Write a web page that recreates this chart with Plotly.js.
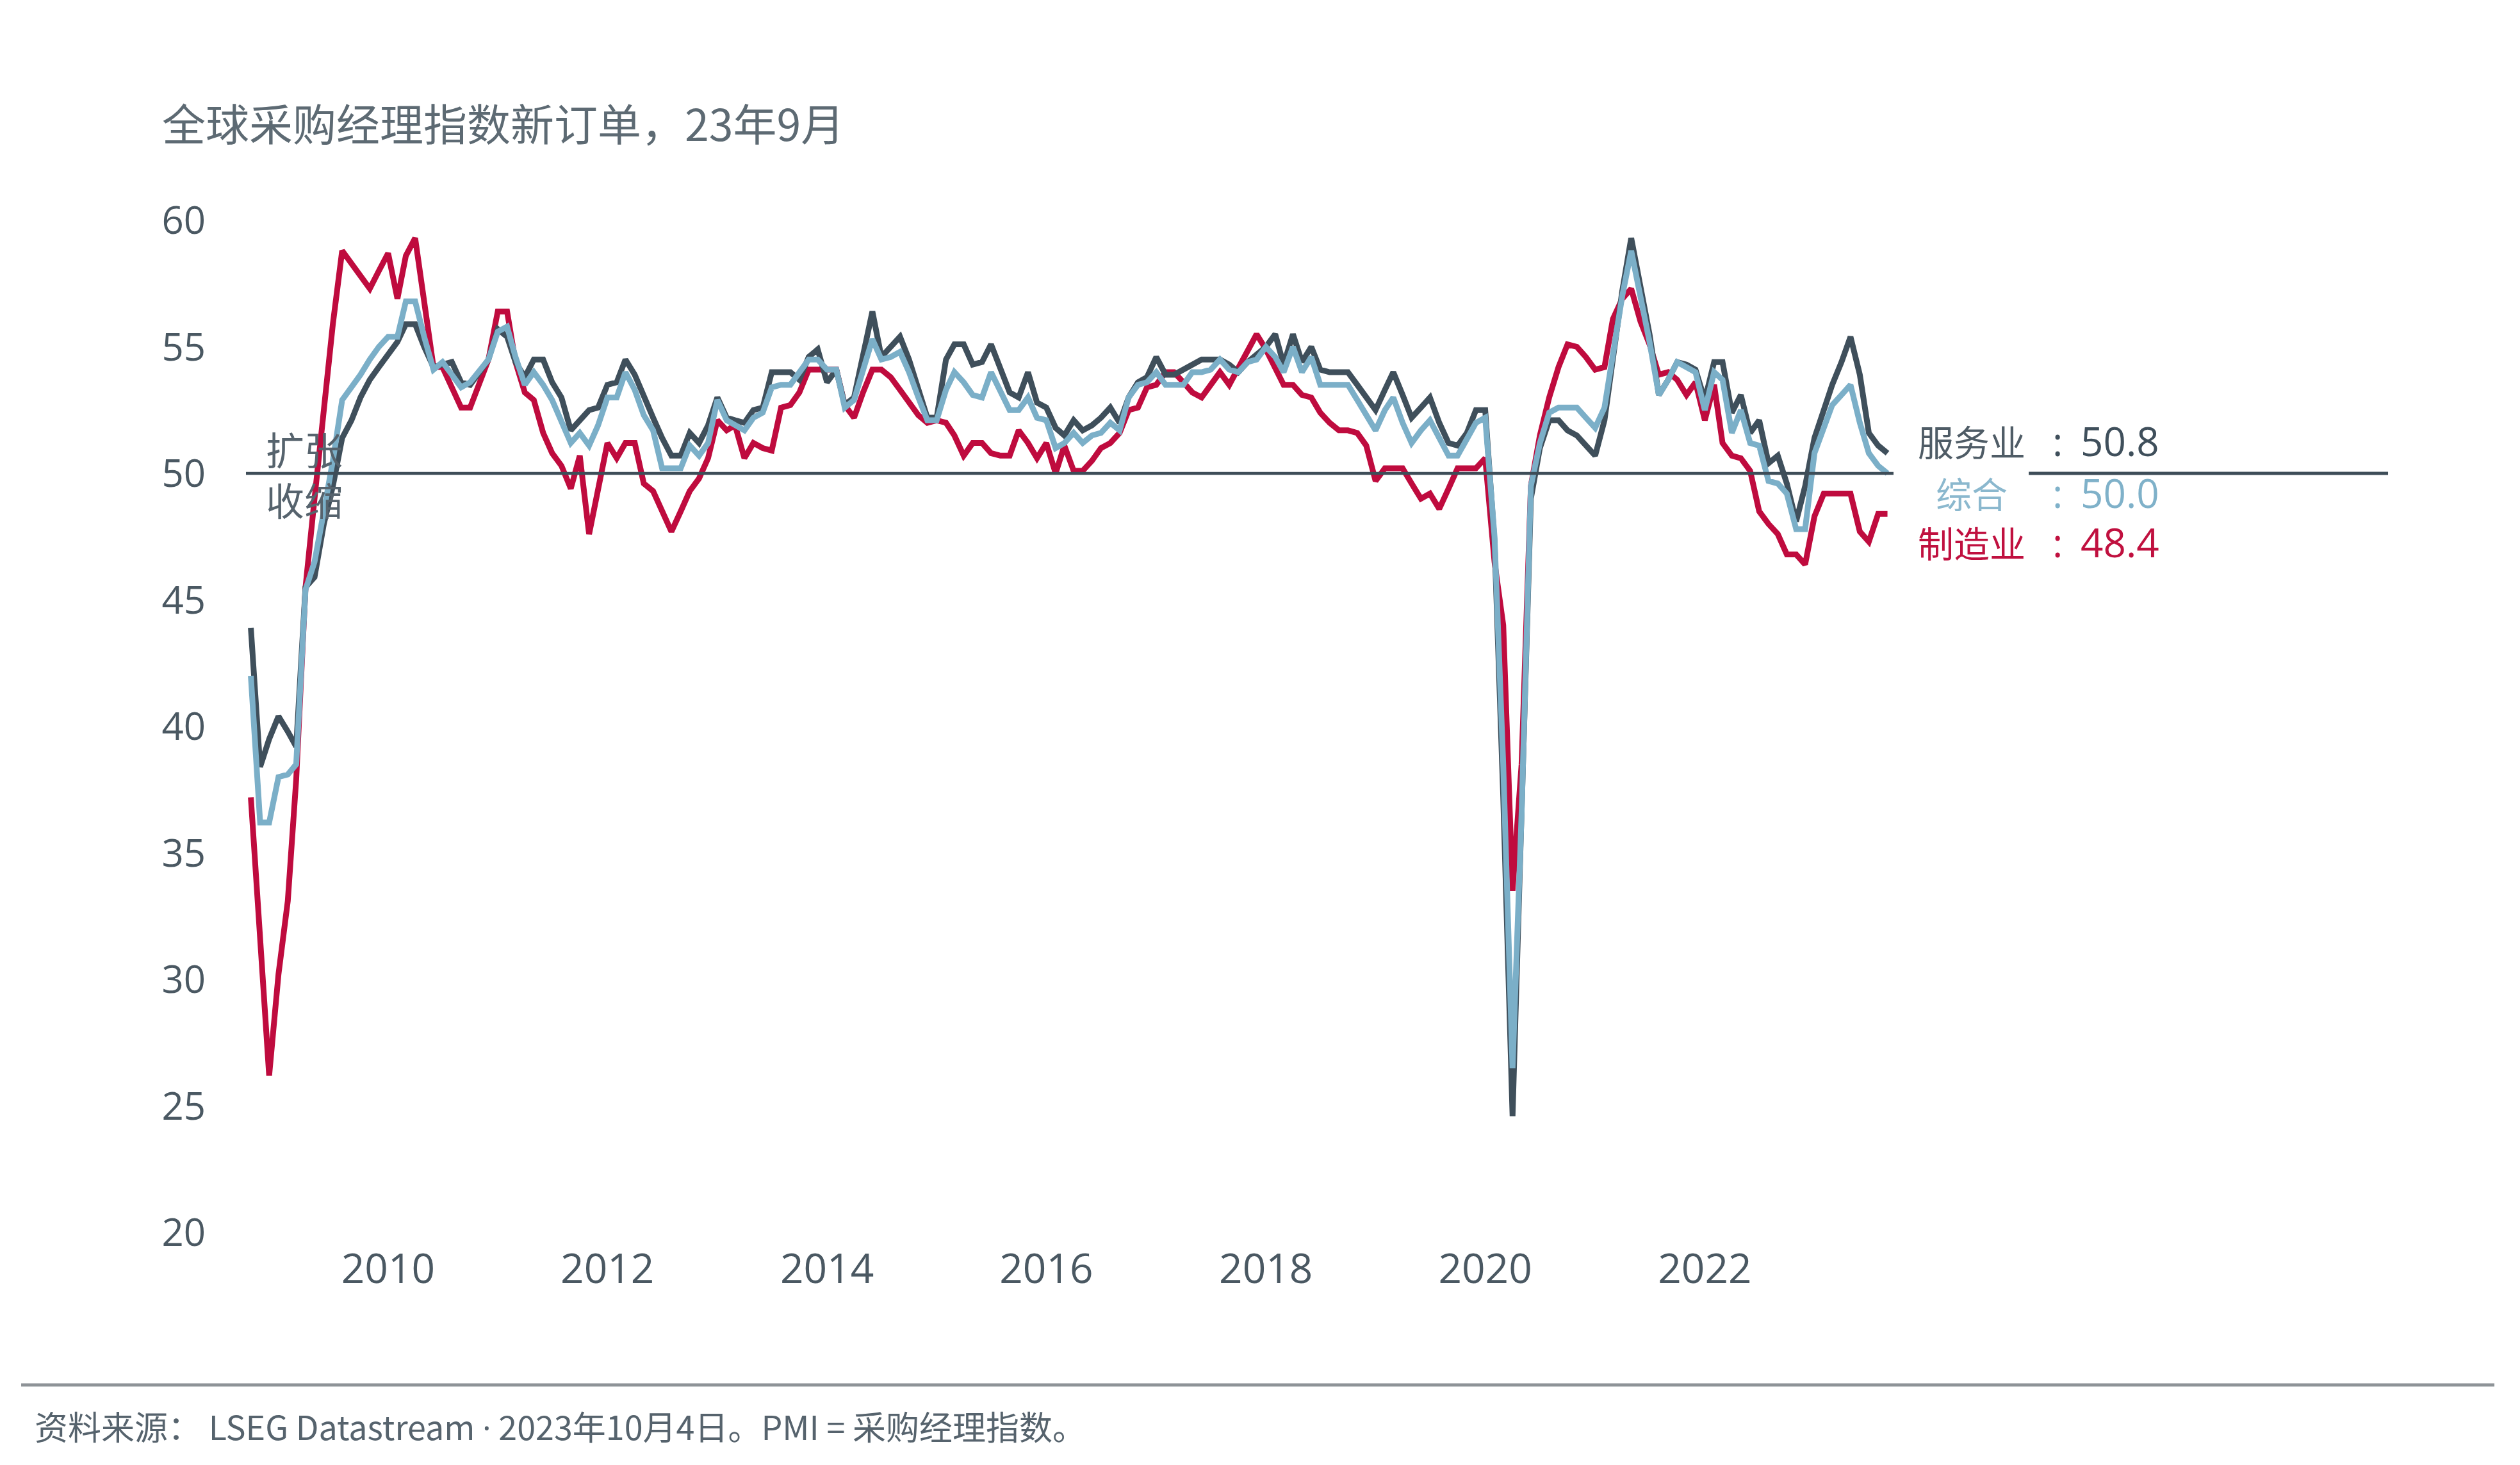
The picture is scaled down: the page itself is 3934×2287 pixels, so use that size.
<!DOCTYPE html>
<html>
<head>
<meta charset="utf-8">
<script src="https://cdn.plot.ly/plotly-3.0.1.min.js"></script>
<style>
  html, body { margin: 0; padding: 0; background: #ffffff; }
  #chart { width: 3934px; height: 2287px; }
</style>
</head>
<body>
<div id="chart"></div>
<script>
// Monthly series, Oct 2008 .. Sep 2023
const startYear = 2008;
const startMonth = 10;

const services = [
  43.9, 38.4, 39.5,
  40.4, 39.8, 39.2, 45.5, 45.9, 48.0, 49.5, 51.4, 52.1, 53.0, 53.7, 54.2,
  54.7, 55.2, 55.9, 55.9, 55.0, 54.2, 54.3, 54.4, 53.6, 53.5, 54.0, 54.5,
  55.7, 55.4, 54.4, 53.8, 54.5, 54.5, 53.6, 53.0, 51.7, 52.1, 52.5, 52.6,
  53.5, 53.6, 54.5, 53.9, 53.0, 52.2, 51.4, 50.7, 50.7, 51.6, 51.2, 51.9,
  53.0, 52.2, 52.1, 52.0, 52.5, 52.6, 54.0, 54.0, 54.0, 53.7, 54.6, 54.9,
  53.6, 54.1, 52.7, 53.0, 54.8, 56.4, 54.6, 55.0, 55.4, 54.5, 53.3, 52.2,
  52.2, 54.5, 55.1, 55.1, 54.3, 54.4, 55.1, 54.2, 53.2, 53.0, 54.0, 52.8,
  52.6, 51.8, 51.5, 52.1, 51.7, 51.9, 52.2, 52.6, 52.0, 53.0, 53.6, 53.8,
  54.6, 53.9, 53.9, 54.1, 54.3, 54.5, 54.5, 54.5, 54.3, 54.0, 54.4, 54.7,
  55.0, 55.5, 54.3, 55.5, 54.4, 55.0, 54.1, 54.0, 54.0, 54.0, 53.5, 53.0,
  52.5, 53.3, 54.0, 53.1, 52.2, 52.6, 53.0, 52.0, 51.2, 51.1, 51.6, 52.5,
  52.5, 47.3, 37.2, 24.6, 36.0, 49.0, 51.0, 52.1, 52.1, 51.7, 51.5, 51.1,
  50.7, 52.1, 54.6, 57.2, 59.3, 57.4, 55.5, 53.1, 53.7, 54.4, 54.3, 54.1,
  52.9, 54.4, 54.4, 52.4, 53.1, 51.6, 52.1, 50.4, 50.7, 49.6, 48.1, 49.5,
  51.4, 52.5, 53.5, 54.4, 55.4, 53.9, 51.6, 51.1, 50.8
];

const composite = [
  42.0, 36.2, 36.2,
  38.0, 38.1, 38.5, 45.4, 46.5, 48.5, 50.5, 52.9, 53.4, 53.9, 54.5, 55.0,
  55.4, 55.4, 56.8, 56.8, 55.4, 54.1, 54.4, 53.9, 53.4, 53.6, 54.1, 54.5,
  55.6, 55.8, 54.6, 53.5, 54.0, 53.5, 52.9, 52.0, 51.2, 51.6, 51.1, 51.9,
  53.0, 53.0, 54.0, 53.3, 52.3, 51.7, 50.2, 50.2, 50.2, 51.1, 50.7, 51.2,
  52.9, 52.1, 51.9, 51.7, 52.2, 52.4, 53.4, 53.5, 53.5, 54.0, 54.5, 54.5,
  54.1, 54.1, 52.6, 52.9, 54.1, 55.3, 54.5, 54.6, 54.8, 54.0, 53.0, 52.1,
  52.1, 53.3, 54.0, 53.6, 53.1, 53.0, 54.0, 53.2, 52.5, 52.5, 53.0, 52.2,
  52.1, 51.0, 51.2, 51.6, 51.2, 51.5, 51.6, 52.0, 51.7, 53.0, 53.5, 53.6,
  54.0, 53.5, 53.5, 53.5, 54.0, 54.0, 54.1, 54.5, 54.1, 54.0, 54.4, 54.5,
  55.0, 54.6, 54.0, 55.0, 54.0, 54.6, 53.5, 53.5, 53.5, 53.5, 52.9, 52.3,
  51.7, 52.5, 53.0, 52.0, 51.2, 51.7, 52.1, 51.4, 50.7, 50.7, 51.4, 52.0,
  52.2, 47.5, 38.5, 26.5, 36.5, 49.5, 51.2, 52.4, 52.6, 52.6, 52.6, 52.2,
  51.8, 52.6, 54.8, 57.0, 58.8, 57.1, 55.2, 53.1, 53.7, 54.4, 54.2, 54.0,
  52.5, 54.0, 53.7, 51.6, 52.5, 51.2, 51.1, 49.7, 49.6, 49.2, 47.8, 47.8,
  50.8, 51.8, 52.7, 53.1, 53.5, 52.0, 50.8, 50.3, 50.0
];

const manufacturing = [
  37.2, 31.4, 26.2,
  30.2, 33.1, 37.9, 45.5, 49.0, 52.5, 55.9, 58.8, 58.3, 57.8, 57.3, 58.0,
  58.7, 56.9, 58.6, 59.3, 56.7, 54.2, 54.2, 53.4, 52.6, 52.6, 53.6, 54.5,
  56.4, 56.4, 54.4, 53.2, 52.9, 51.6, 50.8, 50.3, 49.4, 50.7, 47.6, 49.5,
  51.2, 50.6, 51.2, 51.2, 49.6, 49.3, 48.5, 47.7, 48.5, 49.3, 49.8, 50.6,
  52.1, 51.7, 51.9, 50.6, 51.2, 51.0, 50.9, 52.6, 52.7, 53.2, 54.1, 54.1,
  54.1, 54.1, 52.7, 52.2, 53.2, 54.1, 54.1, 53.8, 53.3, 52.8, 52.3, 52.0,
  52.1, 52.0, 51.5, 50.7, 51.2, 51.2, 50.8, 50.7, 50.7, 51.7, 51.2, 50.6,
  51.2, 50.0, 51.1, 50.1, 50.1, 50.5, 51.0, 51.2, 51.6, 52.5, 52.6, 53.4,
  53.5, 54.0, 54.0, 53.6, 53.2, 53.0, 53.5, 54.0, 53.5, 54.2, 54.8, 55.5,
  54.9, 54.2, 53.5, 53.5, 53.1, 53.0, 52.4, 52.0, 51.7, 51.7, 51.6, 51.1,
  49.7, 50.2, 50.2, 50.2, 49.6, 49.0, 49.2, 48.6, 49.4, 50.2, 50.2, 50.2,
  50.6, 46.5, 44.0, 33.5, 38.5, 49.5, 51.5, 53.0, 54.2, 55.1, 55.0, 54.6,
  54.1, 54.2, 56.1, 56.9, 57.3, 56.0, 55.1, 53.9, 54.0, 53.7, 53.1, 53.6,
  52.1, 53.5, 51.2, 50.7, 50.6, 50.1, 48.5, 48.0, 47.6, 46.8, 46.8, 46.4,
  48.3, 49.2, 49.2, 49.2, 49.2, 47.7, 47.3, 48.4, 48.4
];

const seriesNames = ['制造业', '服务业', '综合'];
const latestLabels = ['48.4', '50.8', '50.0'];
const xTickVals = ['2010-01-01', '2012-01-01', '2014-01-01', '2016-01-01', '2018-01-01', '2020-01-01', '2022-01-01'];
const xTickText = ['2010', '2012', '2014', '2016', '2018', '2020', '2022'];
const yTickVals = [20, 25, 30, 35, 40, 45, 50, 55, 60];
const titleText = '全球采购经理指数新订单，23年9月';
const sourceText = '资料来源： LSEG Datastream <span style="font-family:\'Open Sans\'">·</span> 2023年10月4日。PMI = 采购经理指数。';

// Build month dates
const dates = [];
for (let i = 0; i < services.length; i++) {
  const k = startMonth - 1 + i;
  const y = startYear + Math.floor(k / 12);
  const mo = (k % 12) + 1;
  dates.push(y + '-' + String(mo).padStart(2, '0') + '-01');
}

const colRed = '#bf0b3e';
const colDark = '#3f4f5b';
const colLight = '#7bafc8';
const colText = '#56636d';
const cjk = '"Noto Sans CJK SC", "Noto Sans", sans-serif';
const latin = '"Open Sans", "Noto Sans", sans-serif';

const traces = [
  { x: dates, y: manufacturing, name: seriesNames[0], type: 'scatter', mode: 'lines',
    line: { color: colRed, width: 9 } },
  { x: dates, y: services, name: seriesNames[1], type: 'scatter', mode: 'lines',
    line: { color: colDark, width: 9 } },
  { x: dates, y: composite, name: seriesNames[2], type: 'scatter', mode: 'lines',
    line: { color: colLight, width: 9 } }
];

// plot area: x 340..3000 px, y 344..1924 px
const rows = [
  { label: seriesNames[1], value: latestLabels[1], color: '#4f5c66', valColor: '#3f4f5b', y: 51.3 },
  { label: seriesNames[2], value: latestLabels[2], color: '#8bb8ce', valColor: '#7fb1c9', y: 49.25 },
  { label: seriesNames[0], value: latestLabels[0], color: '#c0103f', valColor: '#c0103f', y: 47.3 }
];

const annotations = [
  { text: '扩张', xref: 'paper', yref: 'y', x: 0.0274, y: 51.0, xanchor: 'left', yanchor: 'middle',
    showarrow: false, font: { family: cjk, size: 60, color: colText } },
  { text: '收缩', xref: 'paper', yref: 'y', x: 0.0274, y: 49.0, xanchor: 'left', yanchor: 'middle',
    showarrow: false, font: { family: cjk, size: 60, color: colText } },
  { text: sourceText, xref: 'paper', yref: 'paper', x: -0.1083, y: -0.1910, xanchor: 'left', yanchor: 'middle',
    showarrow: false, font: { family: cjk, size: 52, color: colText } }
];
rows.forEach(r => {
  annotations.push({ text: r.label, xref: 'paper', yref: 'y', x: 1.0293, y: r.y, xanchor: 'center', yanchor: 'middle',
    showarrow: false, font: { family: cjk, size: 56, color: r.color } });
  annotations.push({ text: ':', xref: 'paper', yref: 'y', x: 1.0797, y: r.y, xanchor: 'center', yanchor: 'middle',
    showarrow: false, font: { family: latin, size: 62, color: r.valColor } });
  annotations.push({ text: r.value, xref: 'paper', yref: 'y', x: 1.0925, y: r.y, xanchor: 'left', yanchor: 'middle',
    showarrow: false, font: { family: latin, size: 62, color: r.valColor } });
});

const shapes = [
  { type: 'line', xref: 'paper', yref: 'y', x0: 0.01654, x1: 0.98346, y0: 50, y1: 50,
    line: { color: '#3e4d58', width: 4.5 }, layer: 'above' },
  { type: 'line', xref: 'paper', yref: 'y', x0: 1.0628, x1: 1.2737, y0: 50, y1: 50,
    line: { color: '#3e4d58', width: 5 }, layer: 'above' },
  { type: 'line', xref: 'paper', yref: 'paper', x0: -0.1154, x1: 1.3361, y0: -0.1506, y1: -0.1506,
    line: { color: '#8e9397', width: 5 }, layer: 'above' }
];

const layout = {
  width: 3934,
  height: 2287,
  paper_bgcolor: '#ffffff',
  plot_bgcolor: '#ffffff',
  margin: { l: 340, r: 934, t: 344, b: 363, pad: 0 },
  showlegend: false,
  hovermode: false,
  title: {
    text: titleText,
    xref: 'container', yref: 'container',
    x: 0.0643, xanchor: 'left',
    y: 0.9143, yanchor: 'middle',
    font: { family: cjk, size: 68, color: '#5d6a73' }
  },
  xaxis: {
    type: 'date',
    range: ['2008-06-13', '2023-12-24'],
    tickmode: 'array',
    tickvals: xTickVals,
    ticktext: xTickText,
    showgrid: false, zeroline: false, showline: false,
    ticks: '',
    ticklabelstandoff: 14,
    tickfont: { family: latin, size: 64, color: '#4a5862' }
  },
  yaxis: {
    range: [20, 60],
    tickmode: 'array',
    tickvals: yTickVals,
    showgrid: false, zeroline: false, showline: false,
    ticks: '',
    ticklabelstandoff: 18,
    tickfont: { family: latin, size: 60, color: '#4a5862' }
  },
  annotations: annotations,
  shapes: shapes
};

Plotly.newPlot('chart', traces, layout, { staticPlot: true, displayModeBar: false });
</script>
</body>
</html>
